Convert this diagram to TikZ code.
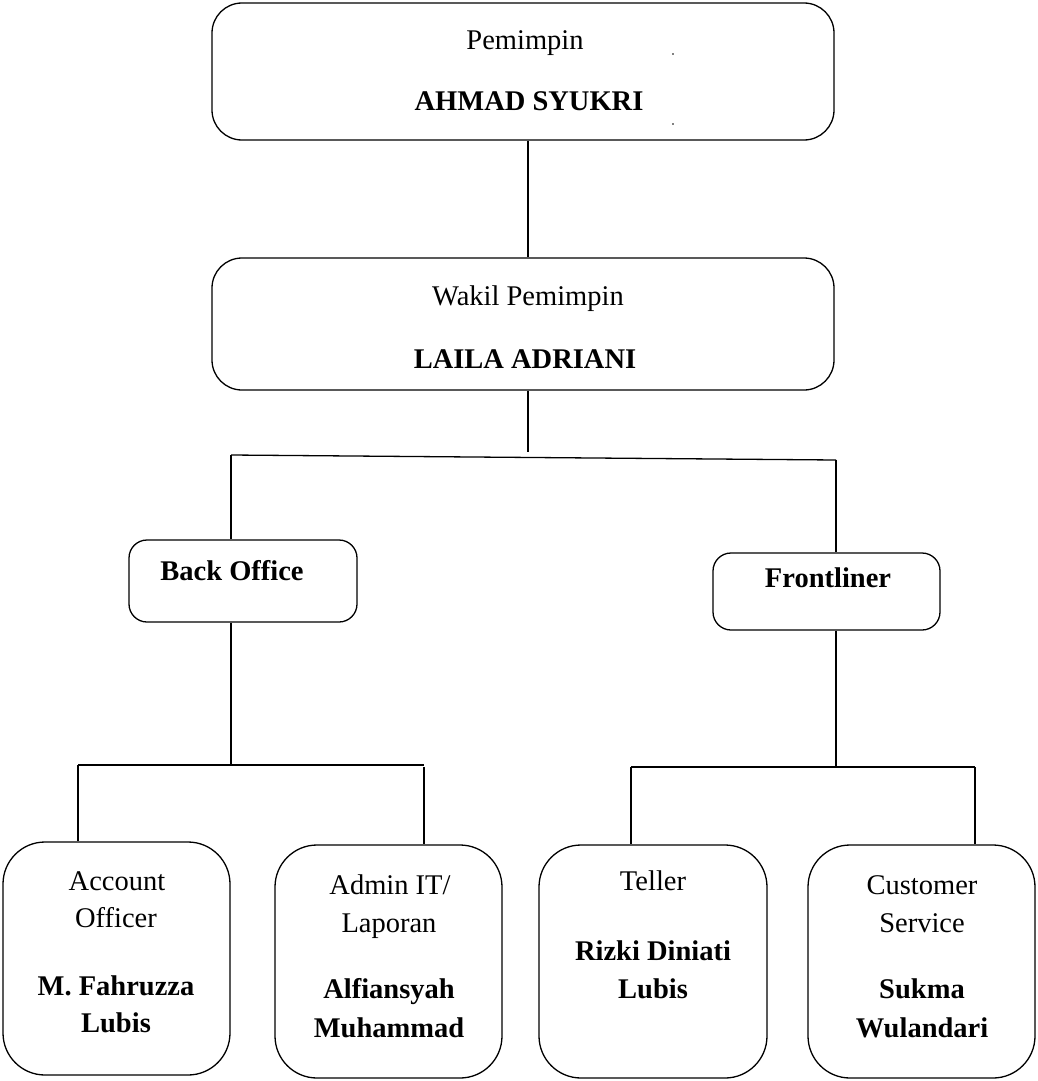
\documentclass[tikz,border=0pt]{standalone}
\usepackage{fontspec}
\setmainfont{Liberation Serif}
\begin{document}
\begin{tikzpicture}[x=1pt,y=-1pt,
  box/.style={draw,line width=1.3pt,rounded corners=#1,inner sep=0pt},
  box/.default=30pt,
  conn/.style={line width=1.3pt},
  txt/.style={anchor=base,inner sep=0pt,font=\fontsize{28.5}{34}\selectfont},
  btxt/.style={txt,font=\fontsize{28.5}{34}\selectfont\bfseries}]
\useasboundingbox (0,0) rectangle (1038,1081);
% boxes
\node[box,minimum width=622pt,minimum height=137pt] (pem) at (523,71.5) {};
\node[box,minimum width=622pt,minimum height=132pt] (wak) at (523,324) {};
\node[box=18pt,minimum width=228pt,minimum height=82pt] (bo) at (243,581) {};
\node[box=18pt,minimum width=227pt,minimum height=77pt] (fl) at (826.5,591.5) {};
\node[box=42pt,minimum width=227pt,minimum height=233pt] (ao) at (116.5,958.5) {};
\node[box=42pt,minimum width=227pt,minimum height=233pt] (ad) at (388.5,961.5) {};
\node[box=42pt,minimum width=228pt,minimum height=233pt] (te) at (653,961.5) {};
\node[box=42pt,minimum width=227pt,minimum height=233pt] (cs) at (921.5,961.5) {};
% texts
\node[txt] (t1) at (525,50) {Pemimpin};
\node[btxt] (t2) at (529,110) {AHMAD SYUKRI};
\fill (673,54) circle (0.8pt) (673,124) circle (0.8pt);
\node[txt] (t3) at (528,305) {Wakil Pemimpin};
\node[btxt] (t4) at (525,368) {LAILA ADRIANI};
\node[btxt] (t5) at (232,580) {Back Office};
\node[btxt] (t6) at (828,587) {Frontliner};
\node[txt] (t7) at (117,890) {Account};
\node[txt] (t8) at (116,927) {Officer};
\node[btxt] (t9) at (116,995) {M. Fahruzza};
\node[btxt] (t10) at (116,1032) {Lubis};
\node[txt] (t11) at (390,894) {Admin IT/};
\node[txt] (t12) at (389,932) {Laporan};
\node[btxt] (t13) at (389,998) {Alfiansyah};
\node[btxt] (t14) at (389,1037) {Muhammad};
\node[txt] (t15) at (653,890) {Teller};
\node[btxt] (t16) at (653,960) {Rizki Diniati};
\node[btxt] (t17) at (653,998) {Lubis};
\node[txt] (t18) at (922,894) {Customer};
\node[txt] (t19) at (922,932) {Service};
\node[btxt] (t20) at (922,998) {Sukma};
\node[btxt] (t21) at (922,1037) {Wulandari};
% connector coordinates
\coordinate (w1) at (528,452);
\coordinate (hL) at (231,455);
\coordinate (hR) at (836,460);
\coordinate (b1) at (231,765);
\coordinate (bL) at (78,765);
\coordinate (bR) at (424,767);
\coordinate (f1) at (836,767);
\coordinate (fL) at (631,767);
\coordinate (fR) at (975,767);
% connectors
\draw[conn] (pem.south -| 528,0) -- (wak.north -| 528,0);
\draw[conn] (wak.south -| w1) -- (w1);
\draw[conn] (hL) -- (hR);
\draw[conn] (hL) -- (hL |- bo.north);
\draw[conn] (hR) -- (hR |- fl.north);
\draw[conn] (bo.south -| b1) -- (b1);
\draw[conn] (bL) -- (424,765);
\draw[conn] (bL) -- (bL |- ao.north);
\draw[conn] (bR) -- (bR |- ad.north);
\draw[conn] (fl.south -| f1) -- (f1);
\draw[conn] (fL) -- (fR);
\draw[conn] (fL) -- (fL |- te.north);
\draw[conn] (fR) -- (fR |- cs.north);
\end{tikzpicture}
\end{document}
